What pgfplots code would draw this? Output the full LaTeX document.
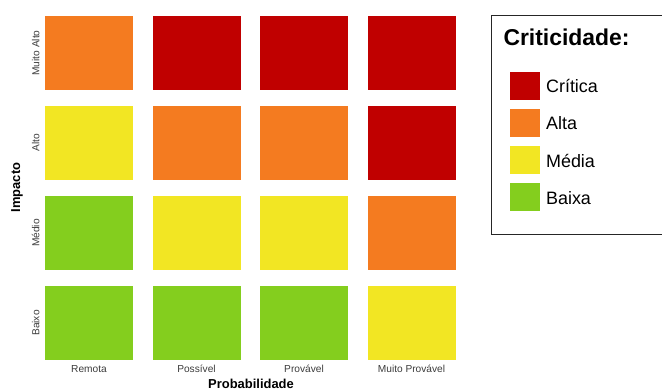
\documentclass[border=0pt]{standalone}
\usepackage{pgfplots}
\pgfplotsset{compat=1.18}
\usepackage{fontspec}
\setmainfont{Liberation Sans}
\definecolor{cCrit}{RGB}{192,0,0}
\definecolor{cAlta}{RGB}{244,123,32}
\definecolor{cMedia}{RGB}{242,230,35}
\definecolor{cBaixa}{RGB}{132,206,30}
\definecolor{tickgray}{RGB}{60,60,60}
\pgfdeclareplotmark{tile}{\pgfpathrectangle{\pgfqpoint{-44bp}{-37.35bp}}{\pgfqpoint{88bp}{74.7bp}}\pgfusepathqfill}
\begin{document}
\begin{tikzpicture}
\path[use as bounding box] (0,0) rectangle (662bp,390bp);
\begin{axis}[
  at={(42bp,27bp)}, anchor=south west, scale only axis,
  width=418bp, height=351bp,
  xmin=0.5628, xmax=4.451, ymin=0.5556, ymax=4.4556,
  axis line style={draw=none}, major tick length=0pt,
  xtick={1,2,3,4}, xticklabels={Remota,Possível,Provável,Muito Provável},
  ytick={1,2,3,4}, yticklabels={Baixo,Médio,Alto,Muito Alto},
  ticklabel style={font=\fontsize{10.2}{12}\selectfont, text=tickgray, inner sep=0pt},
  xticklabel style={anchor=base}, xticklabel shift=9.3bp,
  yticklabel style={rotate=90, anchor=base}, yticklabel shift=2.7bp,
  xlabel={Probabilidade}, ylabel={Impacto},
  label style={font=\fontsize{13}{15}\selectfont\bfseries, inner sep=0pt},
  xlabel style={at={(axis description cs:0.5,-0.0729)}, anchor=base},
  ylabel style={at={(axis description cs:-0.0598,0.5)}, anchor=center},
  legend cell align=left,
  legend style={at={(axis description cs:1.1196,0.8291)}, anchor=north west,
    draw=none, fill=none, inner sep=0pt, outer sep=0pt,
    font=\fontsize{18}{21}\selectfont, row sep=9.7bp, column sep=6.7bp,
    nodes={inner sep=0pt, outer sep=0pt}},
]
\addplot[only marks, mark=tile, color=cCrit,
  legend image code/.code={\fill[cCrit] (0bp,-12.1bp) rectangle (29bp,14.9bp);}]
  coordinates {(2,4) (3,4) (4,4) (4,3)};
\addlegendentry{Crítica}
\addplot[only marks, mark=tile, color=cAlta,
  legend image code/.code={\fill[cAlta] (0bp,-12.1bp) rectangle (29bp,14.9bp);}]
  coordinates {(1,4) (2,3) (3,3) (4,2)};
\addlegendentry{Alta}
\addplot[only marks, mark=tile, color=cMedia,
  legend image code/.code={\fill[cMedia] (0bp,-12.1bp) rectangle (29bp,14.9bp);}]
  coordinates {(1,3) (2,2) (3,2) (4,1)};
\addlegendentry{Média}
\addplot[only marks, mark=tile, color=cBaixa,
  legend image code/.code={\fill[cBaixa] (0bp,-12.1bp) rectangle (29bp,14.9bp);}]
  coordinates {(1,2) (1,1) (2,1) (3,1)};
\addlegendentry{Baixa}
\end{axis}
\draw[line width=1bp, draw=black!85] (491bp,155.7bp) rectangle (700bp,374bp);
\node[anchor=base west, inner sep=0pt, font=\fontsize{23}{27}\selectfont\bfseries] at (503.3bp,344bp) {Criticidade:};
\end{tikzpicture}
\end{document}
